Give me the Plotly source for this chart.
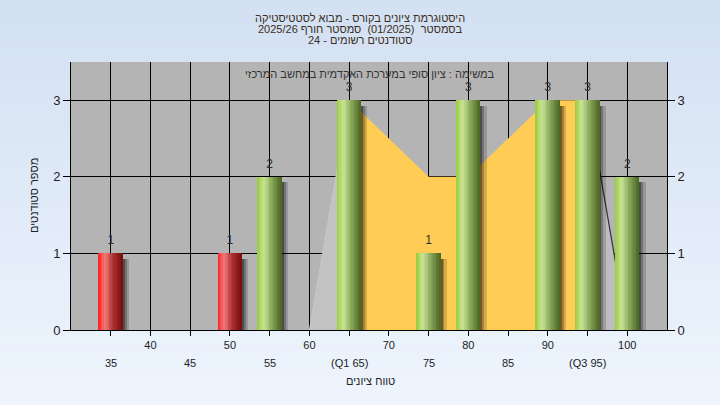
import plotly.graph_objects as go

# ---------------- data ----------------
scores = [35, 50, 55, 65, 75, 80, 90, 95, 100]
counts = [1, 1, 2, 3, 1, 3, 3, 3, 2]
pass_mark = 55

tick_vals = [35, 40, 45, 50, 55, 60, 65, 70, 75, 80, 85, 90, 95, 100]
upper_tick_text = ["", "40", "", "50", "", "60", "", "70", "", "80", "", "90", "", "100"]
lower_tick_vals = [35, 45, 55, 65, 75, 85, 95]
lower_tick_text = ["35", "45", "55", "(Q1 65)", "75", "85", "(Q3 95)"]

tail_low_x = [60, 65]
tail_low_y = [0, 3]
iqr_x = [65, 70, 75, 80, 85, 90, 95]
iqr_y = [3, 2.5, 2, 2, 2.5, 3, 3]
tail_high_x = [95, 100]
tail_high_y = [3, 0]

title_lines = ["היסטוגרמת ציונים בקורס - מבוא לסטטיסטיקה",
               "בסמסטר  (01/2025)  סמסטר חורף 2025/26",
               "סטודנטים רשומים - 24"]
inner_text = "במשימה : ציון סופי במערכת האקדמית במחשב המרכזי"
x_title = "טווח ציונים"
y_title = "מספר סטודנטים"

# ---------------- styling ----------------
FONT = "Liberation Sans, Arial, DejaVu Sans, sans-serif"
TXT = "#2e2e2e"
BAR_W = 3.0
N_SLICES = 18

green_stops = [(0.0, (152, 204, 60)), (0.28, (202, 228, 150)), (0.55, (148, 178, 100)), (1.0, (74, 102, 34))]
red_stops = [(0.0, (255, 30, 30)), (0.28, (240, 125, 125)), (0.6, (176, 50, 50)), (1.0, (118, 14, 14))]


def interp(stops, t):
    for (t0, c0), (t1, c1) in zip(stops[:-1], stops[1:]):
        if t0 <= t <= t1:
            f = (t - t0) / (t1 - t0) if t1 > t0 else 0
            return "rgb(%d,%d,%d)" % tuple(round(a + (b - a) * f) for a, b in zip(c0, c1))
    return "rgb(%d,%d,%d)" % stops[-1][1]


fig = go.Figure()

# distribution areas (main y axis, drawn underneath the overlaying bar axis)
fig.add_trace(go.Scatter(x=tail_low_x, y=tail_low_y, mode="lines", fill="tozeroy",
                         fillcolor="#c2c2c2", line=dict(color="#c8c8c8", width=1), hoverinfo="skip"))
fig.add_trace(go.Scatter(x=iqr_x, y=iqr_y, mode="lines", fill="tozeroy",
                         fillcolor="#ffcc55", line=dict(color="#ffcc55", width=0), hoverinfo="skip"))
fig.add_trace(go.Scatter(x=tail_high_x, y=tail_high_y, mode="lines", fill="tozeroy",
                         fillcolor="#bdbdbd", line=dict(color="#333333", width=1.2), hoverinfo="skip"))

# shadows
for shift, alpha in [(0.25, 0.32), (0.5, 0.24), (0.8, 0.16)]:
    fig.add_trace(go.Bar(x=scores, y=[c - 0.07 for c in counts], width=BAR_W,
                         offset=-BAR_W / 2 + shift, yaxis="y2",
                         marker=dict(color="rgba(0,0,0,%s)" % alpha, line=dict(width=0)),
                         hoverinfo="skip"))

# cylinder-like bars from slices
for i in range(N_SLICES):
    t = (i + 0.5) / N_SLICES
    cols = [interp(red_stops if s < pass_mark else green_stops, t) for s in scores]
    fig.add_trace(go.Bar(x=scores, y=counts, width=BAR_W / N_SLICES + 0.01,
                         offset=-BAR_W / 2 + i * BAR_W / N_SLICES, yaxis="y2",
                         marker=dict(color=cols, line=dict(width=0)), hoverinfo="skip"))

# value labels
fig.add_trace(go.Scatter(x=scores, y=counts, mode="markers+text", text=[str(c) for c in counts],
                         yaxis="y2", marker=dict(size=8, opacity=0),
                         textposition="top center", textfont=dict(family=FONT, size=12, color=TXT),
                         hoverinfo="skip", cliponaxis=False))

# background gradient
shapes = []
n = 40
top_c = (211, 224, 242)
bot_c = (238, 245, 253)
y_top, y_bot = 1.24, -0.29
for k in range(n):
    f = k / (n - 1)
    c = tuple(round(a + (b - a) * f) for a, b in zip(top_c, bot_c))
    y1 = y_top - (y_top - y_bot) * k / n
    y0 = y_top - (y_top - y_bot) * (k + 1) / n - 0.002
    shapes.append(dict(type="rect", xref="paper", yref="paper", x0=-0.2, x1=1.2, y0=y0, y1=y1,
                       fillcolor="rgb(%d,%d,%d)" % c, line=dict(width=0), layer="below"))
shapes.append(dict(type="rect", xref="paper", yref="paper", x0=0, x1=1, y0=0, y1=1,
                   fillcolor="#b4b4b4", line=dict(width=0), layer="below"))

annotations = []
for line, ypix in zip(title_lines, [18, 29, 40]):
    annotations.append(dict(text=line, xref="paper", yref="paper", x=(360 - 71) / 596,
                            y=(330 - ypix) / 268, showarrow=False, xanchor="center", yanchor="middle",
                            font=dict(family=FONT, size=11, color="#3a2f22")))
annotations.append(dict(text=inner_text, xref="paper", yref="paper", x=(370 - 71) / 596,
                        y=(330 - 74) / 268, showarrow=False, xanchor="center", yanchor="middle",
                        font=dict(family=FONT, size=11, color="#333333")))
for v, t in zip(lower_tick_vals, lower_tick_text):
    annotations.append(dict(text=t, xref="x", yref="paper", x=v, y=(330 - 363) / 268,
                            showarrow=False, xanchor="center", yanchor="middle",
                            font=dict(family=FONT, size=11, color="#222222")))
annotations.append(dict(text=x_title, xref="paper", yref="paper", x=(370 - 71) / 596,
                        y=(330 - 381) / 268, showarrow=False, xanchor="center", yanchor="middle",
                        font=dict(family=FONT, size=11, color="#222222")))
annotations.append(dict(text=y_title, xref="paper", yref="paper", x=(34 - 71) / 596,
                        y=(330 - 196) / 268, showarrow=False, xanchor="center", yanchor="middle",
                        textangle=-90, font=dict(family=FONT, size=11, color="#222222")))

fig.update_layout(
    width=720, height=405,
    margin=dict(l=71, r=53, t=62, b=75),
    paper_bgcolor="#e0e9f6", plot_bgcolor="#b4b4b4",
    barmode="overlay", bargap=0, showlegend=False,
    shapes=shapes, annotations=annotations,
    xaxis=dict(range=[30, 105], tickvals=tick_vals, ticktext=upper_tick_text,
               showgrid=True, gridcolor="black", gridwidth=1, zeroline=False,
               showline=True, linecolor="black", linewidth=1,
               ticks="outside", ticklen=5, tickcolor="black",
               tickfont=dict(family=FONT, size=11, color="#222222")),
    yaxis=dict(range=[0, 3.5], tickvals=[0, 1, 2, 3], showgrid=True, gridcolor="black",
               gridwidth=1, zeroline=False, showline=True, linecolor="black", linewidth=1,
               ticks="outside", ticklen=7, tickcolor="black",
               tickfont=dict(family=FONT, size=13, color="#222222")),
    yaxis2=dict(range=[0, 3.5], tickvals=[0, 1, 2, 3], overlaying="y", side="right",
                showgrid=False, zeroline=False, showline=True, linecolor="black", linewidth=1,
                ticks="outside", ticklen=7, tickcolor="black",
                tickfont=dict(family=FONT, size=13, color="#222222")),
)

fig.write_html("out.html")
